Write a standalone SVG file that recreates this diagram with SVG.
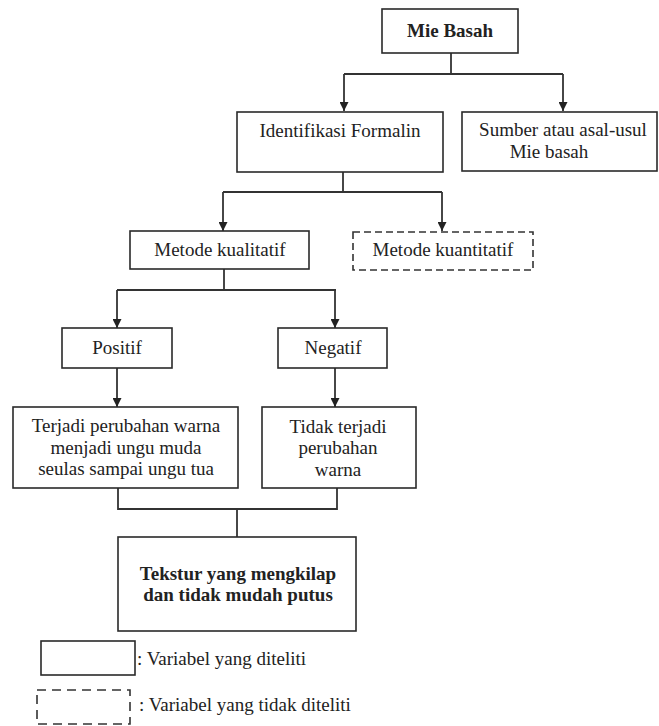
<svg xmlns="http://www.w3.org/2000/svg" width="659" height="726" viewBox="0 0 659 726">
<style>
  .box { fill: #fff; stroke: #2a2a2a; stroke-width: 1.6; }
  .dash { fill: #fff; stroke: #333; stroke-width: 1.6; stroke-dasharray: 7 4; }
  .ldash { fill: #fff; stroke: #333; stroke-width: 1.6; stroke-dasharray: 9 6; }
  .t { font-family: "Liberation Serif", "Times New Roman", serif; font-size: 19px; fill: #222; text-anchor: middle; }
  .b { font-weight: bold; }
  .lg { font-family: "Liberation Serif", "Times New Roman", serif; font-size: 19px; fill: #222; }
  .c { fill: none; stroke: #333; stroke-width: 1.8; }
</style>
<defs>
  <marker id="arr" viewBox="0 0 10 10" refX="10" refY="5" markerWidth="9" markerHeight="9" markerUnits="userSpaceOnUse" orient="auto">
    <path d="M0,0 L10,5 L0,10 z" fill="#222"/>
  </marker>
</defs>
<rect width="659" height="726" fill="#fff"/>

<g id="connectors">
  <path class="c" d="M451,53 V74"/>
  <path class="c" d="M344,74 H563"/>
  <path class="c" d="M344,74 V111" marker-end="url(#arr)"/>
  <path class="c" d="M563,74 V111" marker-end="url(#arr)"/>
  <path class="c" d="M343,172 V192"/>
  <path class="c" d="M223,192 H442"/>
  <path class="c" d="M223,192 V231" marker-end="url(#arr)"/>
  <path class="c" d="M442,192 V231" marker-end="url(#arr)"/>
  <path class="c" d="M224,269 V290"/>
  <path class="c" d="M117,290 H336"/>
  <path class="c" d="M117,290 V328" marker-end="url(#arr)"/>
  <path class="c" d="M335,290 V328" marker-end="url(#arr)"/>
  <path class="c" d="M117,368 V407" marker-end="url(#arr)"/>
  <path class="c" d="M335,368 V407" marker-end="url(#arr)"/>
  <path class="c" d="M118,488 V509 H337 V488"/>
  <path class="c" d="M237,509 V537"/>
</g>

<g id="mie-basah">
  <rect class="box" x="382" y="9" width="136" height="44"/>
  <text class="t b" x="450" y="37" font-size="16" fill="#111">Mie Basah</text>
</g>

<g id="identifikasi">
  <rect class="box" x="237" y="112" width="206" height="60"/>
  <text class="t" x="340" y="137">Identifikasi Formalin</text>
</g>

<g id="sumber">
  <rect class="box" x="462" y="112" width="195" height="59"/>
  <text class="t" x="563" y="136">Sumber atau asal-usul</text>
  <text class="t" x="549" y="158">Mie basah</text>
</g>

<g id="kualitatif">
  <rect class="box" x="130" y="231" width="179" height="38"/>
  <text class="t" x="220" y="256">Metode kualitatif</text>
</g>

<g id="kuantitatif">
  <rect class="dash" x="353" y="232" width="180" height="38"/>
  <text class="t" x="443" y="256">Metode kuantitatif</text>
</g>

<g id="positif">
  <rect class="box" x="62" y="328" width="110" height="40"/>
  <text class="t" x="117" y="354">Positif</text>
</g>

<g id="negatif">
  <rect class="box" x="278" y="328" width="109" height="40"/>
  <text class="t" x="333" y="354">Negatif</text>
</g>

<g id="terjadi">
  <rect class="box" x="13" y="407" width="225" height="81"/>
  <text class="t" x="126" y="432">Terjadi perubahan warna</text>
  <text class="t" x="126" y="454">menjadi ungu muda</text>
  <text class="t" x="126" y="475">seulas sampai ungu tua</text>
</g>

<g id="tidak-terjadi">
  <rect class="box" x="262" y="407" width="154" height="81"/>
  <text class="t" x="338" y="433">Tidak terjadi</text>
  <text class="t" x="338" y="454">perubahan</text>
  <text class="t" x="338" y="476">warna</text>
</g>

<g id="tekstur">
  <rect class="box" x="118" y="537" width="238" height="94"/>
  <text class="t b" x="238" y="580" font-size="18.5" fill="#555">Tekstur yang mengkilap</text>
  <text class="t b" x="238" y="601" font-size="18.5" fill="#555">dan tidak mudah putus</text>
</g>

<g id="legend">
  <rect class="box" x="41" y="641" width="94" height="34"/>
  <text class="lg" x="137" y="665">: Variabel yang diteliti</text>
  <rect class="ldash" x="37" y="690" width="93" height="34"/>
  <text class="lg" x="139" y="711">: Variabel yang tidak diteliti</text>
</g>
</svg>
